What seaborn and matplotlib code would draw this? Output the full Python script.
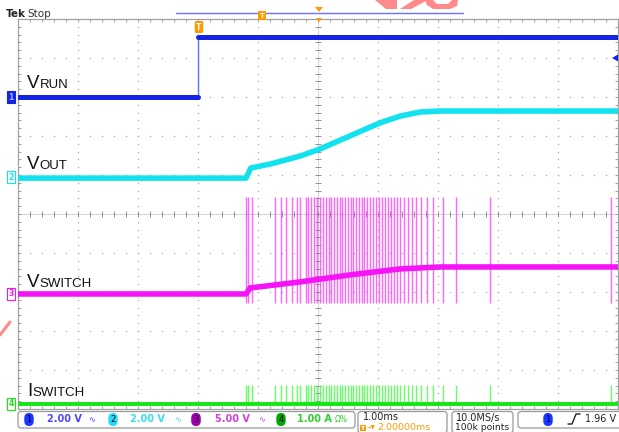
import numpy as np
import pandas as pd
import matplotlib
matplotlib.use("Agg")
import matplotlib.pyplot as plt
import seaborn as sns
from matplotlib.patches import FancyBboxPatch, Polygon

sns.set_style("white")
plt.rcParams['font.family'] = ['DejaVu Sans']

# time in ms, trigger at 0, 1.00 ms/div
t_min, t_max = -3.0, 7.0

# per channel: units/div and ground level (div from bottom of screen)
ch_scale = [2.0, 2.0, 5.0, 1.0]
ch_ground = [8.0, 5.92, 2.95, 0.13]
ch_color = ['#1424e6', '#12e2ee', '#f514f5', '#14e614']

vrun_t = [-3.0, 0.0, 0.0, 7.0]
vrun_v = [0.0, 0.0, 3.08, 3.08]

vout_t = [-3.0, 0.80, 0.88, 1.20, 1.70, 2.03, 2.53, 3.03, 3.37, 3.70, 4.03, 7.0]
vout_v = [0.0, 0.0, 0.52, 0.72, 1.13, 1.49, 2.16, 2.83, 3.18, 3.39, 3.44, 3.44]

vsw_t = [-3.0, 0.80, 0.87, 1.70, 2.53, 3.37, 4.03, 7.0]
vsw_v = [0.0, 0.0, 0.77, 1.54, 2.44, 3.21, 3.46, 3.46]

isw_t = [-3.0, 7.0]
isw_v = [0.0, 0.0]

# switching pulses (ms)
spike_t = [0.80, 0.83, 0.90, 1.28, 1.38, 1.47, 1.57, 1.65, 1.70, 1.80, 1.83, 1.88,
           1.93, 1.98, 2.03, 2.08, 2.13, 2.18, 2.22, 2.27, 2.32, 2.37, 2.40, 2.45,
           2.50, 2.55, 2.58, 2.63, 2.68, 2.73, 2.77, 2.82, 2.87, 2.92, 2.97, 3.02,
           3.07, 3.12, 3.17, 3.22, 3.27, 3.32, 3.37, 3.43, 3.50, 3.57, 3.63, 3.72,
           3.82, 3.92, 4.08, 4.30, 4.87, 6.88]
vsw_spike = (-1.2, 12.4)   # V
isw_spike = (0.0, 0.49)    # A


def to_div(vals, ch):
    return [ch_ground[ch] + v / ch_scale[ch] for v in vals]


W, H = 619, 432
fig = plt.figure(figsize=(W / 100, H / 100), dpi=100)
fig.patch.set_facecolor('white')
ax = fig.add_axes([18 / W, (H - 409) / H, 600 / W, 390 / H])
ax.set_xlim(t_min, t_max)
ax.set_ylim(0, 10)

# graticule
gcol = '#a8a8a8'
for gx in range(-2, 7):
    if gx == 2:
        continue
    ys = np.arange(0, 10.01, 0.2)
    ax.plot([gx] * len(ys), ys, ls='none', marker='s', ms=0.9, mew=0, color=gcol, zorder=0)
for gy in range(1, 10):
    if gy == 5:
        continue
    xs = np.arange(t_min, t_max + 0.01, 0.2)
    ax.plot(xs, [gy] * len(xs), ls='none', marker='s', ms=0.9, mew=0, color=gcol, zorder=0)
ax.axhline(5, color='#c0c0c0', lw=0.5, zorder=0)
ax.axvline(2, color='#c0c0c0', lw=0.5, zorder=0)
xs = np.arange(t_min, t_max + 0.01, 0.2)
ax.plot(xs, [5] * len(xs), ls='none', marker='|', ms=4, mew=0.7, color='#909090', zorder=0)
ys = np.arange(0, 10.01, 0.2)
ax.plot([2] * len(ys), ys, ls='none', marker='_', ms=4, mew=0.7, color='#909090', zorder=0)

ax.set_xticks(np.arange(t_min, t_max + 0.01, 0.2))
ax.set_yticks(np.arange(0, 10.01, 0.2))
ax.set_xticklabels([])
ax.set_yticklabels([])
ax.tick_params(direction='in', length=2.5, width=0.6, color='#909090',
               top=True, right=True, bottom=True, left=True)
for s in ax.spines.values():
    s.set_color('#a0a0a0')
    s.set_linewidth(0.9)
ax.set_xlabel('')
ax.set_ylabel('')

# channel 4 - ISWITCH
ax.vlines(spike_t, to_div([isw_spike[0]], 3)[0], to_div([isw_spike[1]], 3)[0],
          color='#40ff40', lw=1.0, alpha=0.8, zorder=2)
sns.lineplot(x=isw_t, y=to_div(isw_v, 3), ax=ax, color=ch_color[3], lw=2.8,
             estimator=None, sort=False, zorder=3)

# channel 3 - VSWITCH
ax.vlines(spike_t, to_div([vsw_spike[0]], 2)[0], to_div([vsw_spike[1]], 2)[0],
          color='#ff40ff', lw=1.0, alpha=0.8, zorder=2)
sns.lineplot(x=vsw_t, y=to_div(vsw_v, 2), ax=ax, color=ch_color[2], lw=4.0,
             estimator=None, sort=False, zorder=3)

# channel 2 - VOUT
sns.lineplot(x=vout_t, y=to_div(vout_v, 1), ax=ax, color=ch_color[1], lw=4.0,
             estimator=None, sort=False, zorder=3)

# channel 1 - VRUN (thin edge, thick levels)
d1 = to_div(vrun_v, 0)
ax.vlines(vrun_t[1], d1[1], d1[2], color='#6070ff', lw=1.0, zorder=3)
sns.lineplot(x=vrun_t[:2], y=d1[:2], ax=ax, color=ch_color[0], lw=3.6,
             estimator=None, sort=False, zorder=4)
sns.lineplot(x=vrun_t[2:], y=d1[2:], ax=ax, color=ch_color[0], lw=3.6,
             estimator=None, sort=False, zorder=4)

# overlay in screen pixels for the scope annotations
ov = fig.add_axes([0, 0, 1, 1], facecolor='none')
ov.set_xlim(0, W)
ov.set_ylim(H, 0)
ov.axis('off')

lab = dict(family='Liberation Sans', color='#111111', va='baseline')
ov.text(27, 88, 'V', fontsize=13.5, **lab)
ov.text(39.5, 88, 'RUN', fontsize=9.5, **lab)
ov.text(27, 169, 'V', fontsize=13.5, **lab)
ov.text(39.5, 169, 'OUT', fontsize=9.5, **lab)
ov.text(27, 287, 'V', fontsize=13.5, **lab)
ov.text(39.5, 287, 'SWITCH', fontsize=9.5, **lab)
ov.text(27, 396, 'I', fontsize=13.5, **lab)
ov.text(32.5, 396, 'SWITCH', fontsize=9.5, **lab)

# top header
ov.text(6, 17, 'Tek', fontsize=7.5, weight='bold', color='#222222', va='baseline')
ov.text(27, 17, 'Stop', fontsize=7.5, color='#333333', va='baseline')
ov.plot([176, 463], [13, 13], color='#7070ff', lw=1.0)
ov.text(262, 15.5, 'T', fontsize=5, color='white', ha='center', va='center', weight='bold',
        bbox=dict(boxstyle='square,pad=0.15', fc='#ff9a00', ec='none'))
ov.add_patch(Polygon([(315, 7), (323, 7), (319, 12)], closed=True, fc='#ff9a00', ec='none'))
ov.add_patch(Polygon([(316, 18), (322, 18), (319, 22)], closed=True, fc='#ff9a00', ec='none'))
ov.text(199, 27, 'T', fontsize=5.5, color='white', ha='center', va='center', weight='bold',
        bbox=dict(boxstyle='round,pad=0.2', fc='#ff9a00', ec='none'))

# watermark fragments
wm = '#ff8a8a'
ov.add_patch(Polygon([(375, 0), (397, 0), (397, 9), (386, 9)], closed=True, fc=wm, ec='none'))
ov.add_patch(Polygon([(400, 9), (411, 9), (428, 0), (414, 0)], closed=True, fc=wm, ec='none'))
ov.add_patch(Polygon([(425, 0), (433, 0), (437, 4), (448, 4), (452, 0), (458, 0),
                      (457, 6), (450, 9), (433, 9), (427, 5)], closed=True, fc=wm, ec='none'))
ov.plot([0, 10], [335, 322], color=wm, lw=2.2, solid_capstyle='round')

# trigger level marker
ov.add_patch(Polygon([(612, 58), (618, 54.5), (618, 61.5)], closed=True, fc=ch_color[0], ec='none'))

# channel ground markers
mk = [('1', 97, ch_color[0], '#9fb0ff'), ('2', 177, 'white', ch_color[1]),
      ('3', 294, 'white', ch_color[2]), ('4', 404, 'white', ch_color[3])]
for num, yy, fc, tc in mk:
    ov.text(11, yy, num, fontsize=5.5, color=tc, ha='center', va='center', weight='bold',
            bbox=dict(boxstyle='square,pad=0.2', fc=fc,
                      ec=ch_color[int(num) - 1], lw=0.8))

# status bar
def frame(x0, y0, x1, y1):
    ov.add_patch(FancyBboxPatch((x0, y0), x1 - x0, y1 - y0,
                                boxstyle='round,pad=0,rounding_size=3',
                                fc='white', ec='#9a9a9a', lw=0.9))

frame(18, 411.5, 355, 428)
frame(358, 411.5, 447, 433)
frame(452, 411.5, 513, 433)
frame(518, 411.5, 622, 428)

pill_fc = ['#1a36ff', '#22e0f0', '#a000a8', '#00a800']
val_c = ['#4a4aff', '#3adcee', '#d040d8', '#2cd02c']
pill_x = [29, 113, 196, 281]
val_x = [47, 130, 215, 297]
icon_x = [92, 178, 262]
vals = ['2.00 V', '2.00 V', '5.00 V', '1.00 A']
for i in range(4):
    ov.text(pill_x[i], 419.5, str(i + 1), fontsize=6, color='#000030', ha='center',
            va='center', bbox=dict(boxstyle='round,pad=0.25,rounding_size=0.6',
                                   fc=pill_fc[i], ec='none'))
    ov.text(val_x[i], 419.5, vals[i], fontsize=7, color=val_c[i], weight='bold', va='center')
    if i < 3:
        ov.text(icon_x[i], 419.5, '∿', fontsize=6, color=val_c[i], ha='center', va='center')
ov.text(335, 419.5, 'Ω%', fontsize=5.5, color=val_c[3], va='center')

ov.text(363, 417.5, '1.00ms', fontsize=7, color='#222222', va='center')
ov.text(362.5, 428, 'T', fontsize=4.5, color='white', ha='center', va='center', weight='bold',
        bbox=dict(boxstyle='square,pad=0.15', fc='#ff9a00', ec='none'))
ov.text(366.5, 428, '→▼', fontsize=4, color='#ff9a00', va='center')
ov.text(377, 428, '2.00000ms', fontsize=6.8, color='#ff9a00', va='center')
ov.text(456, 417.5, '10.0MS/s', fontsize=7, color='#222222', va='center')
ov.text(455, 428, '100k points', fontsize=6.6, color='#222222', va='center')

ov.text(548, 419.5, '1', fontsize=6, color='#000030', ha='center', va='center',
        bbox=dict(boxstyle='round,pad=0.25,rounding_size=0.6', fc=pill_fc[0], ec='none'))
ov.plot([568, 572, 576, 580], [424, 424, 414, 414], color='#222222', lw=1.0)
ov.text(585, 419.5, '1.96 V', fontsize=7, color='#222222', va='center')

fig.savefig('out.png', dpi=100)
